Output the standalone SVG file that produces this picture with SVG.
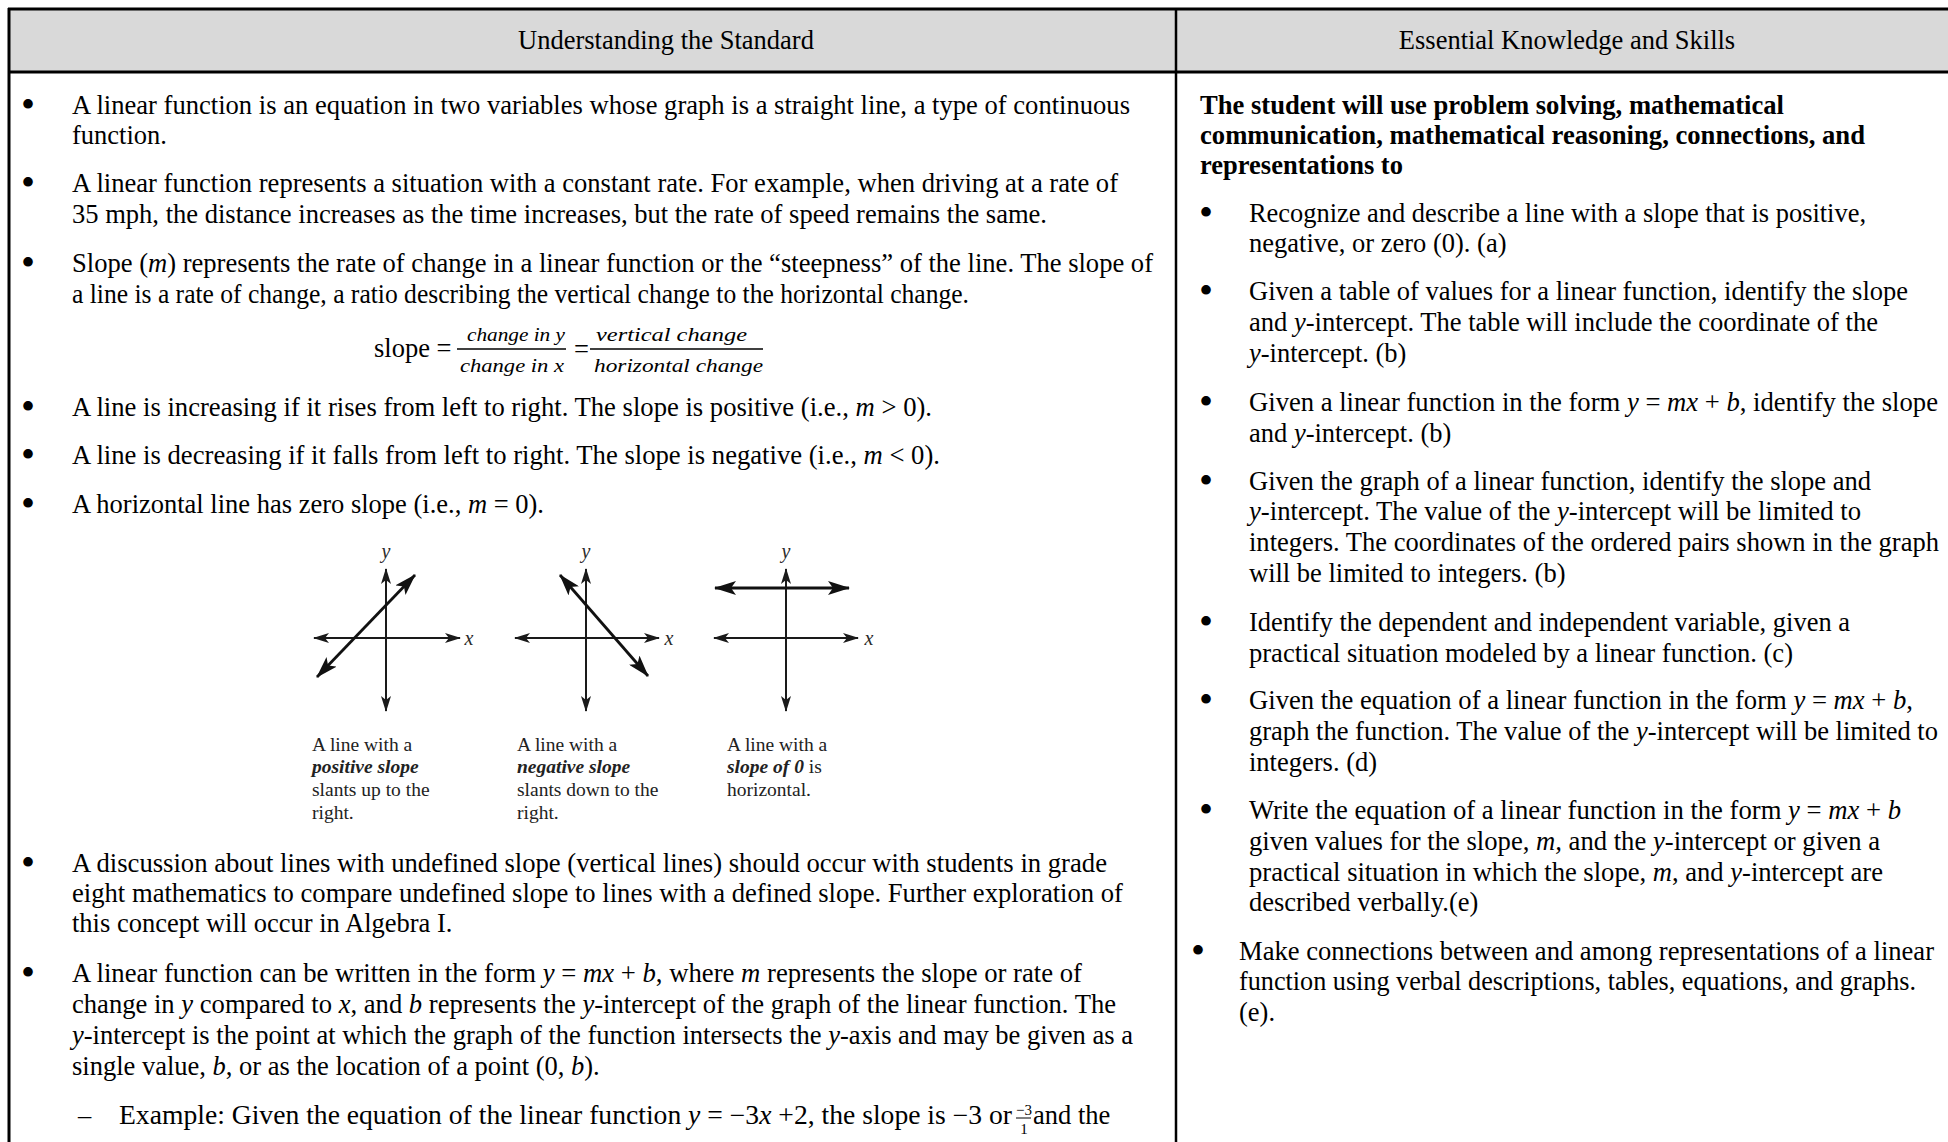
<svg xmlns="http://www.w3.org/2000/svg" width="1948" height="1142" viewBox="0 0 1948 1142">
<style>
.t{font-family:"Liberation Serif","Times New Roman",serif;font-size:26.5px;fill:#000}
.i{font-style:italic}
.b{font-weight:bold}
.m{font-family:"Liberation Serif",serif;font-style:italic;font-size:18px;fill:#000}
.cap{font-family:"Liberation Serif",serif;font-size:19.5px;fill:#222}
.lbl{font-family:"Liberation Serif",serif;font-style:italic;font-size:20px;fill:#2a2a2a;text-anchor:middle}
.ax{stroke:#1a1a1a;stroke-width:2;fill:none}
.ln{stroke:#111;stroke-width:2.8;fill:none}
.bul{font-family:"Liberation Serif",serif;font-size:40px;fill:#000;text-anchor:middle}
</style>
<defs>
<marker id="ah" viewBox="0 0 16 10" refX="15" refY="5" markerWidth="16" markerHeight="10" markerUnits="userSpaceOnUse" orient="auto-start-reverse">
<path d="M0,0 L16,5 L0,10 L4,5 Z" fill="#1a1a1a"/>
</marker>
<marker id="ahb" viewBox="0 0 22 14" refX="21" refY="7" markerWidth="22" markerHeight="14" markerUnits="userSpaceOnUse" orient="auto-start-reverse">
<path d="M0,0 L22,7 L0,14 L5,7 Z" fill="#111"/>
</marker>
</defs>
<rect width="1948" height="1142" fill="#fff"/>

<g id="table">
<rect x="9" y="9" width="1939" height="63" fill="#d9d9d9"/>
<line x1="8" y1="9" x2="1948" y2="9" stroke="#000" stroke-width="3"/>
<line x1="8" y1="72" x2="1948" y2="72" stroke="#000" stroke-width="3"/>
<line x1="9" y1="8" x2="9" y2="1142" stroke="#000" stroke-width="3"/>
<line x1="1176" y1="8" x2="1176" y2="1142" stroke="#000" stroke-width="2.5"/>
</g>

<g id="header">
<text class="t" x="666" y="49" text-anchor="middle">Understanding the Standard</text>
<text class="t" x="1567" y="49" text-anchor="middle">Essential Knowledge and Skills</text>
</g>

<g id="left-col">
<text class="bul" x="28" y="118">•</text>
<text class="t" x="72" y="114" textLength="1058" lengthAdjust="spacingAndGlyphs">A linear function is an equation in two variables whose graph is a straight line, a type of continuous</text>
<text class="t" x="72" y="144">function.</text>

<text class="bul" x="28" y="196">•</text>
<text class="t" x="72" y="192" textLength="1046" lengthAdjust="spacingAndGlyphs">A linear function represents a situation with a constant rate. For example, when driving at a rate of</text>
<text class="t" x="72" y="223" textLength="975" lengthAdjust="spacingAndGlyphs">35 mph, the distance increases as the time increases, but the rate of speed remains the same.</text>

<text class="bul" x="28" y="276">•</text>
<text class="t" x="72" y="272" textLength="1081" lengthAdjust="spacingAndGlyphs">Slope (<tspan class="i">m</tspan>) represents the rate of change in a linear function or the “steepness” of the line. The slope of</text>
<text class="t" x="72" y="303" textLength="897" lengthAdjust="spacingAndGlyphs">a line is a rate of change, a ratio describing the vertical change to the horizontal change.</text>

<g id="slope-formula">
<text class="t" x="374" y="357">slope =</text>
<text class="m" x="467" y="341" textLength="98" lengthAdjust="spacingAndGlyphs">change in y</text>
<line x1="457" y1="349" x2="566" y2="349" stroke="#000" stroke-width="1.3"/>
<text class="m" x="460" y="372" textLength="104" lengthAdjust="spacingAndGlyphs">change in x</text>
<text class="t" x="574" y="358">=</text>
<text class="m" x="596" y="341" textLength="151" lengthAdjust="spacingAndGlyphs">vertical change</text>
<line x1="590" y1="349" x2="763" y2="349" stroke="#000" stroke-width="1.3"/>
<text class="m" x="594" y="372" textLength="169" lengthAdjust="spacingAndGlyphs">horizontal change</text>
</g>

<text class="bul" x="28" y="420">•</text>
<text class="t" x="72" y="416" textLength="860" lengthAdjust="spacingAndGlyphs">A line is increasing if it rises from left to right. The slope is positive (i.e., <tspan class="i">m</tspan> &gt; 0).</text>
<text class="bul" x="28" y="468">•</text>
<text class="t" x="72" y="464" textLength="868" lengthAdjust="spacingAndGlyphs">A line is decreasing if it falls from left to right. The slope is negative (i.e., <tspan class="i">m</tspan> &lt; 0).</text>
<text class="bul" x="28" y="517">•</text>
<text class="t" x="72" y="513">A horizontal line has zero slope (i.e., <tspan class="i">m</tspan> = 0).</text>

<text class="bul" x="28" y="876">•</text>
<text class="t" x="72" y="872" textLength="1035" lengthAdjust="spacingAndGlyphs">A discussion about lines with undefined slope (vertical lines) should occur with students in grade</text>
<text class="t" x="72" y="902" textLength="1051" lengthAdjust="spacingAndGlyphs">eight mathematics to compare undefined slope to lines with a defined slope. Further exploration of</text>
<text class="t" x="72" y="932">this concept will occur in Algebra I.</text>

<text class="bul" x="28" y="986">•</text>
<text class="t" x="72" y="982" textLength="1010" lengthAdjust="spacingAndGlyphs">A linear function can be written in the form <tspan class="i">y</tspan> = <tspan class="i">mx</tspan> + <tspan class="i">b</tspan>, where <tspan class="i">m</tspan> represents the slope or rate of</text>
<text class="t" x="72" y="1013" textLength="1044" lengthAdjust="spacingAndGlyphs">change in <tspan class="i">y</tspan> compared to <tspan class="i">x</tspan>, and <tspan class="i">b</tspan> represents the <tspan class="i">y</tspan>-intercept of the graph of the linear function. The</text>
<text class="t" x="72" y="1044" textLength="1061" lengthAdjust="spacingAndGlyphs"><tspan class="i">y</tspan>-intercept is the point at which the graph of the function intersects the <tspan class="i">y</tspan>-axis and may be given as a</text>
<text class="t" x="72" y="1075"><tspan>single value, </tspan><tspan class="i">b</tspan>, or as the location of a point (0, <tspan class="i">b</tspan>).</text>

<text class="t" x="78" y="1124">–</text>
<text class="t" x="119" y="1124" textLength="893" lengthAdjust="spacingAndGlyphs">Example: Given the equation of the linear function <tspan class="i">y</tspan> = −3<tspan class="i">x</tspan> +2, the slope is −3 or</text>
<text class="t" x="1024" y="1115" text-anchor="middle" style="font-size:15px">−3</text>
<line x1="1016" y1="1118" x2="1031" y2="1118" stroke="#000" stroke-width="1"/>
<text class="t" x="1024" y="1134" text-anchor="middle" style="font-size:15px">1</text>
<text class="t" x="1033" y="1124">and the</text>
</g>

<g id="graphs">
<g id="graph-positive">
<line class="ax" x1="386" y1="711" x2="386" y2="569" marker-start="url(#ah)" marker-end="url(#ah)"/>
<line class="ax" x1="314" y1="638" x2="460" y2="638" marker-start="url(#ah)" marker-end="url(#ah)"/>
<line class="ln" x1="317" y1="677" x2="415" y2="575" marker-start="url(#ahb)" marker-end="url(#ahb)"/>
<text class="lbl" x="386" y="558">y</text>
<text class="lbl" x="469" y="645">x</text>
<text class="cap" x="312" y="751">A line with a</text>
<text class="cap b i" x="312" y="773">positive slope</text>
<text class="cap" x="312" y="796">slants up to the</text>
<text class="cap" x="312" y="819">right.</text>
</g>
<g id="graph-negative">
<line class="ax" x1="586" y1="711" x2="586" y2="569" marker-start="url(#ah)" marker-end="url(#ah)"/>
<line class="ax" x1="515" y1="638" x2="659" y2="638" marker-start="url(#ah)" marker-end="url(#ah)"/>
<line class="ln" x1="560" y1="575" x2="648" y2="676" marker-start="url(#ahb)" marker-end="url(#ahb)"/>
<text class="lbl" x="586" y="558">y</text>
<text class="lbl" x="669" y="645">x</text>
<text class="cap" x="517" y="751">A line with a</text>
<text class="cap b i" x="517" y="773">negative slope</text>
<text class="cap" x="517" y="796">slants down to the</text>
<text class="cap" x="517" y="819">right.</text>
</g>
<g id="graph-zero">
<line class="ax" x1="786" y1="711" x2="786" y2="569" marker-start="url(#ah)" marker-end="url(#ah)"/>
<line class="ax" x1="714" y1="638" x2="858" y2="638" marker-start="url(#ah)" marker-end="url(#ah)"/>
<line class="ln" x1="715" y1="588" x2="849" y2="588" stroke-width="3.2" marker-start="url(#ahb)" marker-end="url(#ahb)"/>
<text class="lbl" x="786" y="558">y</text>
<text class="lbl" x="869" y="645">x</text>
<text class="cap" x="727" y="751">A line with a</text>
<text class="cap" x="727" y="773"><tspan class="b i">slope of 0</tspan> is</text>
<text class="cap" x="727" y="796">horizontal.</text>
</g>
</g>

<g id="right-col">
<text class="t b" x="1200" y="114" textLength="584" lengthAdjust="spacingAndGlyphs">The student will use problem solving, mathematical</text>
<text class="t b" x="1200" y="144" textLength="665" lengthAdjust="spacingAndGlyphs">communication, mathematical reasoning, connections, and</text>
<text class="t b" x="1200" y="174">representations to</text>

<text class="bul" x="1206" y="226">•</text>
<text class="t" x="1249" y="222" textLength="617" lengthAdjust="spacingAndGlyphs">Recognize and describe a line with a slope that is positive,</text>
<text class="t" x="1249" y="252">negative, or zero (0). (a)</text>

<text class="bul" x="1206" y="304">•</text>
<text class="t" x="1249" y="300" textLength="659" lengthAdjust="spacingAndGlyphs">Given a table of values for a linear function, identify the slope</text>
<text class="t" x="1249" y="331" textLength="629" lengthAdjust="spacingAndGlyphs">and <tspan class="i">y</tspan>-intercept. The table will include the coordinate of the</text>
<text class="t" x="1249" y="362"><tspan class="i">y</tspan>-intercept. (b)</text>

<text class="bul" x="1206" y="415">•</text>
<text class="t" x="1249" y="411" textLength="689" lengthAdjust="spacingAndGlyphs">Given a linear function in the form <tspan class="i">y</tspan> = <tspan class="i">mx</tspan> + <tspan class="i">b</tspan>, identify the slope</text>
<text class="t" x="1249" y="442">and <tspan class="i">y</tspan>-intercept. (b)</text>

<text class="bul" x="1206" y="494">•</text>
<text class="t" x="1249" y="490" textLength="622" lengthAdjust="spacingAndGlyphs">Given the graph of a linear function, identify the slope and</text>
<text class="t" x="1249" y="520" textLength="612" lengthAdjust="spacingAndGlyphs"><tspan class="i">y</tspan>-intercept. The value of the <tspan class="i">y</tspan>-intercept will be limited to</text>
<text class="t" x="1249" y="551" textLength="690" lengthAdjust="spacingAndGlyphs">integers. The coordinates of the ordered pairs shown in the graph</text>
<text class="t" x="1249" y="582">will be limited to integers. (b)</text>

<text class="bul" x="1206" y="635">•</text>
<text class="t" x="1249" y="631" textLength="601" lengthAdjust="spacingAndGlyphs">Identify the dependent and independent variable, given a</text>
<text class="t" x="1249" y="662" textLength="544" lengthAdjust="spacingAndGlyphs">practical situation modeled by a linear function. (c)</text>

<text class="bul" x="1206" y="713">•</text>
<text class="t" x="1249" y="709" textLength="664" lengthAdjust="spacingAndGlyphs">Given the equation of a linear function in the form <tspan class="i">y</tspan> = <tspan class="i">mx</tspan> + <tspan class="i">b</tspan>,</text>
<text class="t" x="1249" y="740" textLength="689" lengthAdjust="spacingAndGlyphs">graph the function. The value of the <tspan class="i">y</tspan>-intercept will be limited to</text>
<text class="t" x="1249" y="771">integers. (d)</text>

<text class="bul" x="1206" y="823">•</text>
<text class="t" x="1249" y="819" textLength="652" lengthAdjust="spacingAndGlyphs">Write the equation of a linear function in the form <tspan class="i">y</tspan> = <tspan class="i">mx</tspan> + <tspan class="i">b</tspan></text>
<text class="t" x="1249" y="850" textLength="631" lengthAdjust="spacingAndGlyphs">given values for the slope, <tspan class="i">m,</tspan> and the <tspan class="i">y</tspan>-intercept or given a</text>
<text class="t" x="1249" y="881" textLength="634" lengthAdjust="spacingAndGlyphs">practical situation in which the slope, <tspan class="i">m</tspan>, and <tspan class="i">y</tspan>-intercept are</text>
<text class="t" x="1249" y="911">described verbally.(e)</text>

<text class="bul" x="1198" y="964">•</text>
<text class="t" x="1239" y="960" textLength="695" lengthAdjust="spacingAndGlyphs">Make connections between and among representations of a linear</text>
<text class="t" x="1239" y="990" textLength="677" lengthAdjust="spacingAndGlyphs">function using verbal descriptions, tables, equations, and graphs.</text>
<text class="t" x="1239" y="1021">(e).</text>
</g>
</svg>
